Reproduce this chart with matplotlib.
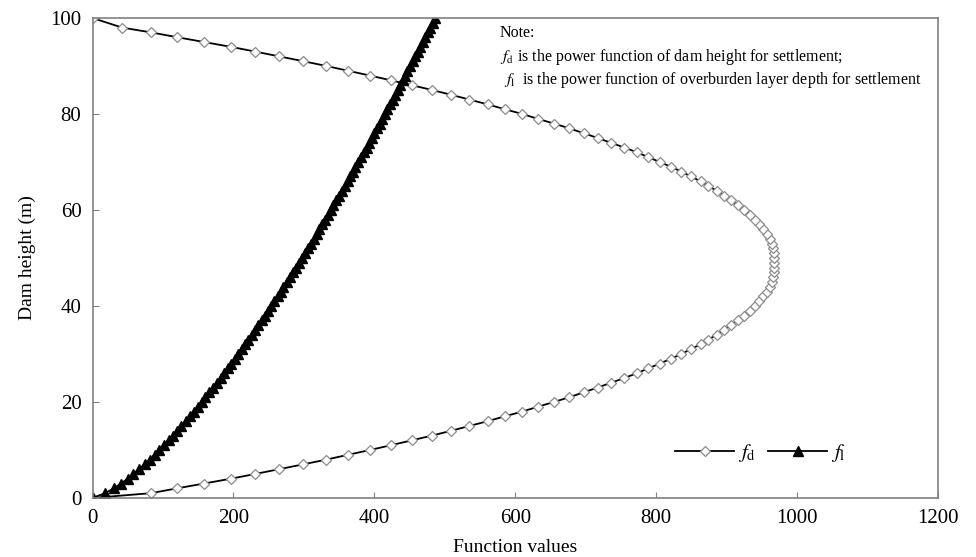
import matplotlib
matplotlib.use('Agg')
import matplotlib.pyplot as plt

# dam height (m) and function values
h_d = list(range(0, 99)) + [100]
f_d = [0, 83, 120, 158, 196, 231, 265, 299, 332, 363,
       394, 424, 453, 482, 509, 535, 561, 585, 610, 632,
       655, 677, 697, 717, 736, 755, 773, 789, 805, 821,
       836, 849, 863, 874, 886, 896, 906, 916, 925, 933,
       940, 946, 952, 957, 961, 964, 966, 967, 968, 968,
       968, 967, 966, 964, 961, 957, 952, 946, 940, 933,
       925, 916, 906, 896, 886, 874, 863, 849, 836, 821,
       805, 789, 773, 755, 736, 717, 697, 677, 655, 632,
       610, 585, 561, 535, 509, 482, 453, 424, 394, 363,
       332, 299, 265, 231, 196, 158, 120, 83, 42, 0]

h_l = list(range(0, 101))
f_l = [0, 18, 30, 40, 50, 58, 66, 74, 81, 88,
       95, 101, 108, 114, 120, 126, 132, 138, 144, 150,
       155, 160, 166, 171, 176, 182, 187, 192, 197, 202,
       207, 212, 216, 221, 226, 231, 235, 240, 245, 249,
       254, 258, 263, 267, 271, 276, 280, 284, 289, 293,
       297, 301, 306, 310, 314, 318, 322, 326, 330, 334,
       338, 342, 346, 350, 354, 358, 362, 366, 370, 373,
       377, 381, 385, 389, 393, 396, 400, 404, 408, 411,
       415, 418, 422, 426, 430, 433, 437, 440, 444, 447,
       451, 455, 458, 462, 465, 469, 472, 476, 479, 483,
       486]

xticks = [0, 200, 400, 600, 800, 1000, 1200]
yticks = [0, 20, 40, 60, 80, 100]

plt.rcParams['font.family'] = ['Liberation Serif', 'DejaVu Serif']
plt.rcParams['mathtext.fontset'] = 'stix'

fig = plt.figure(figsize=(9.76, 5.57), dpi=100)
ax = fig.add_axes([0.0948, 0.106, 0.8662, 0.8617])

ax.plot(f_d, h_d, color='black', lw=1.3, marker='D', markersize=5.5,
        markerfacecolor='white', markeredgecolor='#8c8c8c', markeredgewidth=0.9,
        label=r'$f_\mathrm{d}$')
ax.plot(f_l, h_l, color='black', lw=1.3, marker='^', markersize=6.5,
        markerfacecolor='black', markeredgecolor='black',
        label=r'$f_\mathrm{l}$')

ax.set_xlim(0, 1200)
ax.set_ylim(0, 100)
ax.set_xticks(xticks)
ax.set_yticks(yticks)
ax.tick_params(direction='in', length=4, color='#808080', labelsize=15, pad=8)
for s in ax.spines.values():
    s.set_color('#808080')
    s.set_linewidth(1.2)

ax.set_xlabel('Function values', fontsize=14, labelpad=8)
ax.set_ylabel('Dam height (m)', fontsize=14, labelpad=10)

note_kw = dict(transform=ax.transAxes, fontsize=11.5, va='center')
ax.text(0.482, 0.969, 'Note:', **note_kw)
ax.text(0.482, 0.919, r'$f_\mathrm{d}$ is the power function of dam height for settlement;', **note_kw)
ax.text(0.484, 0.871, r' $f_\mathrm{l}$  is the power function of overburden layer depth for settlement', **note_kw)

ax.legend(loc='center', bbox_to_anchor=(0.79, 0.094), ncol=2, frameon=False,
          fontsize=15, handlelength=2.8, handletextpad=0.2, columnspacing=0.6)

fig.savefig('out.png', dpi=100)
